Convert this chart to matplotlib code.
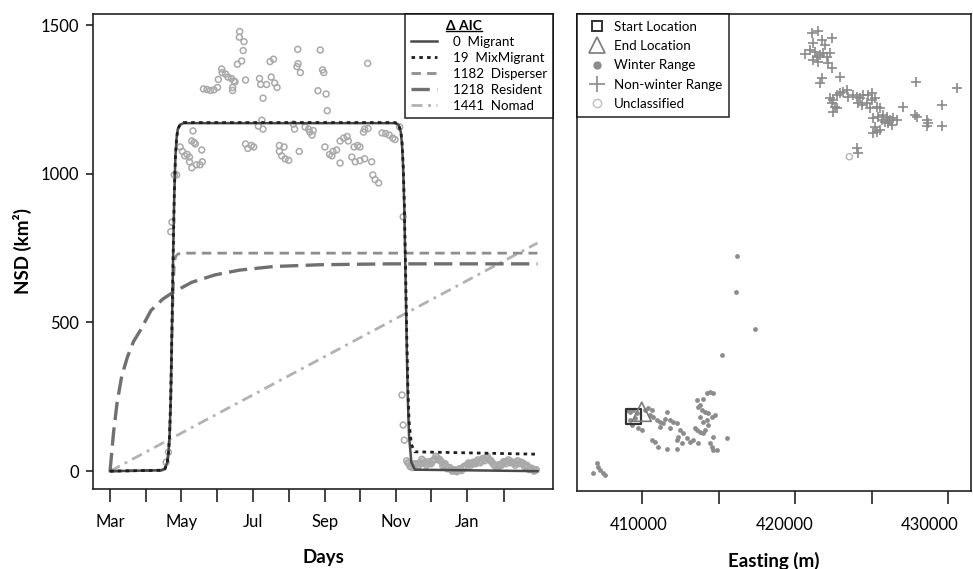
import matplotlib
matplotlib.use('Agg')
import matplotlib.pyplot as plt
import matplotlib.transforms as mtransforms
from matplotlib.lines import Line2D

plt.rcParams['font.family'] = ['Lato', 'DejaVu Sans']

# ---------------- Left panel data (days since 1 March) ----------------
month_starts = [0, 31, 61, 92, 122, 153, 184, 214, 245, 275, 306, 337]
month_labels = ['Mar', '', 'May', '', 'Jul', '', 'Sep', '', 'Nov', '', 'Jan', '']
nsd_ticks = [0, 500, 1000, 1500]

model_names = ['Migrant', 'MixMigrant', 'Disperser', 'Resident', 'Nomad']
delta_aic = [0, 19, 1182, 1218, 1441]

migrant_days = [0, 44, 47, 49, 50, 51, 52, 53, 54, 55, 56, 57, 58, 60, 63,
                244, 247, 249, 250, 251, 252, 253, 254, 255, 256, 258, 261, 366]
migrant_nsd = [0, 3, 8, 30, 60, 120, 250, 480, 720, 930, 1060, 1120, 1150, 1165, 1170,
               1170, 1165, 1140, 1100, 1020, 880, 660, 430, 240, 120, 30, 5, 0]
mixmig_nsd = [0, 3, 8, 30, 60, 120, 250, 480, 720, 930, 1060, 1120, 1150, 1165, 1172,
              1172, 1167, 1142, 1105, 1030, 900, 690, 470, 290, 170, 90, 65, 57]
disperser_days = [0, 44, 47, 49, 50, 51, 52, 53, 54, 55, 56, 58, 62, 366]
disperser_nsd = [0, 3, 8, 30, 60, 120, 250, 450, 600, 690, 720, 730, 733, 733]
resident_days = [0, 3, 6, 10, 15, 20, 26, 35, 45, 53, 70, 90, 111, 140, 180, 240, 366]
resident_nsd = [0, 130, 229, 320, 385, 435, 474, 540, 578, 599, 635, 660, 676, 688, 694, 697, 697]
nomad_days = [0, 366]
nomad_nsd = [0, 767]

obs_days = [48, 50, 52, 53, 55,
            57, 60, 62, 64, 66, 68, 68, 70, 71, 72, 73, 70, 74, 77, 78.5, 79,
            80, 83, 86, 89, 92, 92.7, 95.6, 96, 99, 101, 104, 106, 105, 105, 107, 109, 111, 110.7, 114.7, 114, 112.7, 116,
            116, 118, 121, 123, 127, 130, 131,
            128, 129, 134, 138, 141, 143, 131, 137, 140,
            145, 149, 145, 147, 150, 153, 162, 157, 158,
            160.7, 161, 160, 163, 167, 170, 171, 173, 174,
            180, 182, 183, 178, 185, 186,
            184, 188, 190, 191, 194, 197,
            197, 200, 203, 204, 209, 212, 214,
            207, 210, 214, 218, 224, 218, 221, 217, 220.6,
            225, 227, 230, 233, 236, 239, 242, 244, 248,
            251, 250, 251, 252,
            254, 256, 258, 260, 262, 264, 266, 268, 270, 272, 274, 276, 278, 280, 282, 284,
            286, 288, 290, 292, 294, 296, 298, 300, 302, 304, 306, 308, 310, 312, 314, 316,
            318, 320, 322, 324, 326, 328, 330, 332, 334, 336, 338, 340, 342, 344, 346, 348,
            350, 352, 354, 356, 358, 360, 362, 364,
            255, 257, 259, 261, 263, 265, 267, 269, 271, 273, 275, 277, 279, 281, 283, 285,
            287, 289, 291, 293, 295, 297, 299, 301, 303, 305, 307, 309, 311, 313, 315, 317,
            319, 321, 323, 325, 327, 329, 331, 333, 335, 337, 339, 341, 343, 345, 347, 349,
            351, 353, 355, 357, 359, 361, 363, 365]
obs_nsd = [30, 64, 805, 837, 996,
           996, 1090, 1075, 1060, 1065, 1056, 1040, 1110, 1144, 1105, 1100, 1020, 1030, 1030, 1080, 1040,
           1285, 1283, 1280, 1282, 1290, 1317, 1352, 1340, 1335, 1325, 1320, 1312, 1290, 1280, 1309, 1368, 1478, 1459, 1444, 1414, 1379, 1315,
           1100, 1085, 1095, 1090, 1160, 1180, 1150,
           1320, 1300, 1300, 1325, 1305, 1290, 1254, 1377, 1385,
           1095, 1090, 1075, 1060, 1050, 1045, 1075, 1167, 1150,
           1418, 1370, 1360, 1340, 1157, 1150, 1140, 1130, 1145,
           1416, 1349, 1340, 1279, 1268, 1212,
           1090, 1065, 1060, 1075, 1080, 1036,
           1110, 1120, 1125, 1110, 1090, 1095, 1090,
           1056, 1040, 1044, 1050, 1040, 1150, 1152, 1140, 1371,
           996, 980, 969, 1137, 1135, 1130, 1120, 1115, 1157,
           855, 256, 155, 104,
           35, 25, 18, 20, 22, 18, 25, 35, 30, 25, 28, 32, 40, 45, 40, 30,
           22, 15, 10, 5, 2, 0, 2, 5, 12, 18, 22, 25, 25, 28, 32, 30,
           35, 40, 45, 42, 35, 25, 18, 15, 18, 25, 30, 32, 35, 30, 25, 28,
           32, 30, 25, 18, 12, 8, 5, 3,
           28, 15, 12, 25, 15, 28, 40, 28, 20, 32, 25, 38, 50, 38, 35, 18,
           25, 8, 12, 0, 5, -2, 8, 2, 15, 12, 28, 20, 30, 25, 38, 28,
           42, 35, 50, 38, 30, 20, 12, 22, 20, 32, 25, 38, 28, 30, 20, 35,
           25, 28, 15, 20, 5, 10, 0, 5]

# ---------------- Right panel data (UTM metres) ----------------
easting_ticks = [410000, 415000, 420000, 425000, 430000]
easting_labels = ['410000', '', '420000', '', '430000']

start_e, start_n = [409430], [4989860]
end_e, end_n = [409980], [4990180]

winter_e = [407040, 407140, 407250, 407470, 406820, 407580, 415210, 416210, 416140, 417390,
            409000, 409220, 409430, 409650, 409540, 409220, 409330, 409760, 409980, 410200,
            410410, 410630, 410520, 410740, 410960, 411180, 411390, 411500, 411610, 411830,
            412050, 412270, 411180, 411830, 412480, 412700, 412920, 413140, 413350, 413680,
            412370, 412270, 412590, 410630, 410850, 411070, 411610, 412270, 413580, 413790,
            413460, 413680, 413790, 413580, 414010, 414230, 414440, 414660, 413900, 414120,
            414330, 414560, 414770, 414230, 414330, 414120, 414010, 414440, 414560, 414660,
            414880, 415540, 414660, 413790, 414010]
winter_n = [4986810, 4986590, 4986370, 4986160, 4986160, 4986050, 4993890, 5000360, 4998010, 4995590,
            4990290, 4990180, 4990290, 4990080, 4989750, 4989640, 4989310, 4989100, 4988990, 4990290,
            4990410, 4990290, 4989970, 4989820, 4989640, 4989530, 4989420, 4989690, 4990180, 4989640,
            4989530, 4989460, 4989200, 4989100, 4988990, 4988770, 4988440, 4988220, 4988330, 4988120,
            4988550, 4988330, 4988120, 4988330, 4988220, 4987900, 4987730, 4987730, 4988990, 4988880,
            4989100, 4990510, 4990620, 4990950, 4990990, 4991390, 4991490, 4991390, 4990290, 4990180,
            4990080, 4989860, 4989970, 4989640, 4989310, 4988990, 4988770, 4988120, 4987900, 4987680,
            4987680, 4988440, 4988550, 4989860, 4989530]

nonwinter_e = [421090, 421520, 421200, 421750, 422400, 421960, 420980, 420650, 421310, 421420,
               421630, 421850, 422070, 422290, 421200, 421520, 422180, 422400, 421750, 421630,
               422940,
               422290, 422500, 422730, 422940, 423160, 423380, 422400, 422610, 422500, 422730,
               423480, 423810, 424030, 424250, 424460, 424790, 425010, 425230, 424140, 424360,
               424690, 424900, 425340, 425560, 425010,
               425120, 425440, 425770, 425990, 426210, 426430, 426100, 426320, 425880, 426650,
               425670, 425230, 425120, 425340, 425560, 427080, 427840, 427950, 428610, 428710,
               428610, 429590, 429590, 430570, 427910, 424030, 424140]
nonwinter_n = [5014955, 5015085, 5014260, 5014480, 5014590, 5014150, 5013820, 5013560, 5013710, 5013390,
               5013500, 5013610, 5013390, 5013610, 5013170, 5013060, 5012955, 5012630, 5011970, 5011650,
               5012040,
               5010670, 5010560, 5010880, 5010990, 5011100, 5011210, 5010340, 5010120, 5009790, 5010010,
               5010770, 5010880, 5010770, 5010670, 5010880, 5010880, 5011030, 5010670, 5010340, 5010230,
               5010340, 5010010, 5010120, 5010010, 5010560,
               5009360, 5009460, 5009580, 5009460, 5009250, 5009360, 5009030, 5008920, 5009140, 5009250,
               5009250, 5008810, 5008380, 5008480, 5008600, 5010080, 5009580, 5009460, 5009250, 5009030,
               5008860, 5008860, 5010230, 5011320, 5011750, 5007400, 5007070]

unclass_e = [423550]
unclass_n = [5006850]

# ---------------- Figure ----------------
W, H = 973, 569
fig = plt.figure(figsize=(W / 100, H / 100), dpi=100)
ax1 = fig.add_axes([93 / W, (H - 489) / H, 460 / W, 475 / H])
ax2 = fig.add_axes([577 / W, (H - 491) / H, 394 / W, 477 / H])

obs_col = '#a9a9a9'
ax1.scatter(obs_days, obs_nsd, s=18, facecolors='none', edgecolors=obs_col, linewidths=1.1, zorder=2)

styles = {
    'Migrant': dict(color='#4a4a4a', lw=1.8, ls='-'),
    'MixMigrant': dict(color='#1e1e1e', lw=2.0, ls=(0, (1.3, 1.5))),
    'Disperser': dict(color='#8e8e8e', lw=2.0, ls=(0, (3.4, 2.2))),
    'Resident': dict(color='#707070', lw=2.4, ls=(0, (5.5, 2.2))),
    'Nomad': dict(color='#b2b2b2', lw=2.0, ls=(0, (4.0, 2.0, 1.0, 2.0))),
}
ax1.plot(nomad_days, nomad_nsd, zorder=3, **styles['Nomad'])
ax1.plot(resident_days, resident_nsd, zorder=3, **styles['Resident'])
ax1.plot(disperser_days, disperser_nsd, zorder=3, **styles['Disperser'])
ax1.plot(migrant_days, migrant_nsd, zorder=4, **styles['Migrant'])
ax1.plot(migrant_days, mixmig_nsd, zorder=5, **styles['MixMigrant'])

ax1.set_xlim(-14.6, 379.3)
ax1.set_ylim(-60, 1537)
ax1.set_xticks(month_starts)
ax1.set_xticklabels(month_labels)
ax1.set_yticks(nsd_ticks)
ax1.tick_params(axis='x', length=9, width=1.2, pad=9, labelsize=12, color='#222')
ax1.tick_params(axis='y', length=5, width=1.2, pad=5, labelsize=12, color='#222')
ax1.set_xlabel('Days', fontsize=13.5, fontweight='bold', labelpad=14)
ax1.set_ylabel('NSD (km²)', fontsize=13.5, fontweight='bold', labelpad=6)

handles1 = [Line2D([], [], **styles[m]) for m in model_names]
labels1 = [f'{a}  {m}' for a, m in zip(delta_aic, model_names)]
leg1 = ax1.legend(handles1, labels1, loc='upper right', title=' ', fontsize=9.6,
                  title_fontsize=9.6, frameon=True, fancybox=False, borderaxespad=0,
                  handlelength=1.9, handletextpad=1.2, labelspacing=0.3, borderpad=0.45)
leg1.get_frame().set_edgecolor('black')
leg1.get_frame().set_linewidth(1.2)

# ---------------- Right panel ----------------
ax2.scatter(winter_e, winter_n, s=12, color='#8c8c8c', linewidths=0, zorder=2)
ax2.scatter(nonwinter_e, nonwinter_n, marker='+', s=55, color='#8a8a8a', linewidths=1.2, zorder=3)
ax2.scatter(unclass_e, unclass_n, s=20, facecolors='none', edgecolors='#b5b5b5', linewidths=1.0, zorder=3)
ax2.scatter(start_e, start_n, marker='s', s=110, facecolors='none', edgecolors='#333333', linewidths=1.6, zorder=4)
ax2.scatter(end_e, end_n, marker='^', s=190, facecolors='none', edgecolors='#7a7a7a', linewidths=1.2, zorder=4)

ax2.set_xlim(405750, 431500)
ax2.set_ylim(4985000, 5016177)
ax2.set_xticks(easting_ticks)
ax2.set_xticklabels(easting_labels)
ax2.set_yticks([])
ax2.tick_params(axis='x', length=9.5, width=1.2, pad=9, labelsize=12, color='#222')
ax2.set_xlabel('Easting (m)', fontsize=13.5, fontweight='bold', labelpad=14)
# the reference's tick labels sit slightly left of their ticks
label_shift_px = [-3.5, 0, -10.5, 0, -18]
for lab, dx in zip(ax2.get_xticklabels(), label_shift_px):
    lab.set_transform(lab.get_transform() +
                      mtransforms.ScaledTranslation(dx / 100, 0, fig.dpi_scale_trans))

handles2 = [
    Line2D([], [], ls='none', marker='s', ms=7, mfc='none', mec='#333333', mew=1.4),
    Line2D([], [], ls='none', marker='^', ms=11, mfc='none', mec='#7a7a7a', mew=1.2),
    Line2D([], [], ls='none', marker='o', ms=5, mfc='#8c8c8c', mec='#8c8c8c'),
    Line2D([], [], ls='none', marker='+', ms=11, mec='#8a8a8a', mew=1.2),
    Line2D([], [], ls='none', marker='o', ms=6, mfc='none', mec='#bdbdbd', mew=1.0),
]
labels2 = ['Start Location', 'End Location', 'Winter Range', 'Non-winter Range', 'Unclassified']
leg2 = ax2.legend(handles2, labels2, loc='upper left', fontsize=9.6, frameon=True, fancybox=False,
                  borderaxespad=0, handlelength=2.0, handletextpad=0.25, labelspacing=0.55,
                  borderpad=0.5)
leg2.get_frame().set_edgecolor('black')
leg2.get_frame().set_linewidth(1.2)

for ax in (ax1, ax2):
    for sp in ax.spines.values():
        sp.set_color('#222')
        sp.set_linewidth(1.2)

# Title of left legend: bold, underlined, placed above the label column
fig.canvas.draw()
renderer = fig.canvas.get_renderer()
tbb = leg1.get_title().get_window_extent(renderer)
lbb = leg1.get_texts()[0].get_window_extent(renderer)
tx = lbb.x0 - 7
ty = (tbb.y0 + tbb.y1) / 2
ttl = fig.text(tx / W, ty / H, 'Δ AIC', fontsize=10, fontweight='bold', ha='left', va='center')
fig.canvas.draw()
bb = ttl.get_window_extent(renderer)
fig.add_artist(Line2D([bb.x0 / W, bb.x1 / W], [(bb.y0 + 1) / H, (bb.y0 + 1) / H],
                      transform=fig.transFigure, color='black', lw=1.0))

fig.savefig('out.png', dpi=100)
